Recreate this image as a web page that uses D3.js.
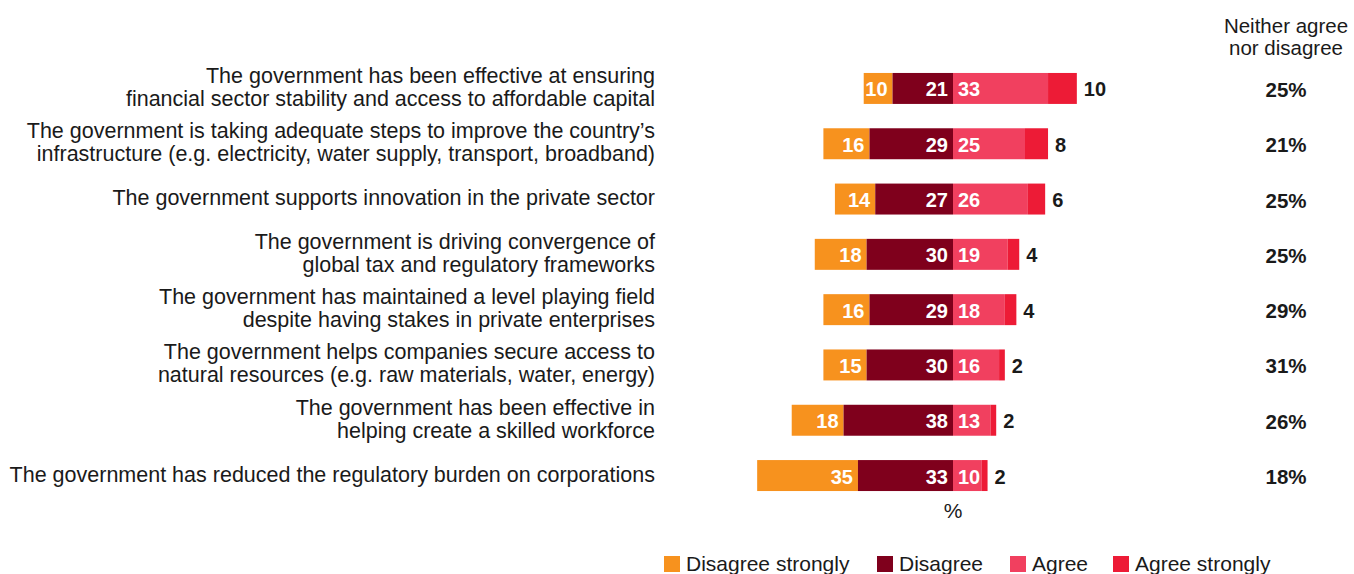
<!DOCTYPE html>
<html>
<head>
<meta charset="utf-8">
<script src="https://cdn.jsdelivr.net/npm/d3@7"></script>
<style>
  html, body { margin: 0; padding: 0; background: #fff; }
  svg { display: block; font-family: "Liberation Sans", Arial, Helvetica, sans-serif; }
</style>
</head>
<body>
<svg id="chart" width="1354" height="574"></svg>
<script>
// Survey statements (each is one or two lines of text)
const statements = [
  ["The government has been effective at ensuring", "financial sector stability and access to affordable capital"],
  ["The government is taking adequate steps to improve the country\u2019s", "infrastructure (e.g. electricity, water supply, transport, broadband)"],
  ["The government supports innovation in the private sector"],
  ["The government is driving convergence of", "global tax and regulatory frameworks"],
  ["The government has maintained a level playing field", "despite having stakes in private enterprises"],
  ["The government helps companies secure access to", "natural resources (e.g. raw materials, water, energy)"],
  ["The government has been effective in", "helping create a skilled workforce"],
  ["The government has reduced the regulatory burden on corporations"]
];

// Response shares, %
const disagreeStrongly = [10, 16, 14, 18, 16, 15, 18, 35];
const disagree         = [21, 29, 27, 30, 29, 30, 38, 33];
const agree            = [33, 25, 26, 19, 18, 16, 13, 10];
const agreeStrongly    = [10, 8, 6, 4, 4, 2, 2, 2];
const neither          = [25, 21, 25, 25, 29, 31, 26, 18];

const seriesNames = ["Disagree strongly", "Disagree", "Agree", "Agree strongly"];
const colors = {
  "Disagree strongly": "#F7921E",
  "Disagree": "#7F001C",
  "Agree": "#F1405F",
  "Agree strongly": "#ED1B36"
};

const svg = d3.select("#chart");
const textColor = "#1a1a1a";

// Diverging scale: 0 sits at the centre line between disagree and agree
const x = d3.scaleLinear().domain([-70, 50]).range([953 - 70 * 2.88, 953 + 50 * 2.88]);
const y = d3.scaleBand()
  .domain(d3.range(statements.length))
  .range([60.8, 60.8 + 55.3 * statements.length])
  .paddingInner(0.44)
  .paddingOuter(0.22);

const rows = statements.map((s, i) => ({
  i,
  lines: s,
  ds: disagreeStrongly[i],
  d: disagree[i],
  a: agree[i],
  as: agreeStrongly[i],
  n: neither[i]
}));

const g = svg.append("g");
const row = g.selectAll("g.row").data(rows).join("g").attr("class", "row");

// Segment extents in data units
const segs = r => [
  { key: "Disagree strongly", x0: -(r.d + r.ds), x1: -r.d, v: r.ds },
  { key: "Disagree", x0: -r.d, x1: 0, v: r.d },
  { key: "Agree", x0: 0, x1: r.a, v: r.a },
  { key: "Agree strongly", x0: r.a, x1: r.a + r.as, v: r.as }
];

row.selectAll("rect")
  .data(r => segs(r).map(s => ({ ...s, i: r.i })))
  .join("rect")
  .attr("x", s => x(s.x0))
  .attr("width", s => x(s.x1) - x(s.x0))
  .attr("y", s => y(s.i))
  .attr("height", y.bandwidth())
  .attr("fill", s => colors[s.key]);

const mid = i => y(i) + y.bandwidth() / 2;
const valueSize = "20px";

// White values inside the disagree segments (right-aligned)
row.selectAll("text.dis")
  .data(r => segs(r).slice(0, 2).map(s => ({ ...s, i: r.i })))
  .join("text")
  .attr("class", "dis")
  .attr("x", s => x(s.x1) - 5)
  .attr("y", s => mid(s.i) + 1)
  .attr("text-anchor", "end")
  .attr("dominant-baseline", "central")
  .attr("fill", "#fff")
  .style("font-size", valueSize)
  .style("font-weight", "bold")
  .text(s => s.v);

// White value inside the agree segment (left-aligned)
row.append("text")
  .attr("x", r => x(0) + 5)
  .attr("y", r => mid(r.i) + 1)
  .attr("dominant-baseline", "central")
  .attr("fill", "#fff")
  .style("font-size", valueSize)
  .style("font-weight", "bold")
  .text(r => r.a);

// Agree strongly value beside the bar end
row.append("text")
  .attr("x", r => x(r.a + r.as) + 7)
  .attr("y", r => mid(r.i) + 1)
  .attr("dominant-baseline", "central")
  .attr("fill", textColor)
  .style("font-size", valueSize)
  .style("font-weight", "bold")
  .text(r => r.as);

// Neither agree nor disagree column
row.append("text")
  .attr("x", 1286)
  .attr("y", r => mid(r.i) + 1)
  .attr("text-anchor", "middle")
  .attr("dominant-baseline", "central")
  .attr("fill", textColor)
  .style("font-size", "20.5px")
  .style("font-weight", "bold")
  .text(r => r.n + "%");

// Statement labels, right-aligned
const lineH = 23;
row.append("text")
  .attr("text-anchor", "end")
  .attr("fill", textColor)
  .style("font-size", "21.5px")
  .each(function (r) {
    const t = d3.select(this);
    const n = r.lines.length;
    r.lines.forEach((ln, k) => {
      t.append("tspan")
        .attr("x", 655)
        .attr("y", mid(r.i) - 1 + (k - (n - 1) / 2) * lineH)
        .attr("dominant-baseline", "central")
        .text(ln);
    });
  });

// Column header
svg.append("text")
  .attr("text-anchor", "middle")
  .attr("fill", textColor)
  .style("font-size", "20.5px")
  .selectAll("tspan")
  .data(["Neither agree", "nor disagree"])
  .join("tspan")
  .attr("x", 1286)
  .attr("y", (d, k) => 33 + k * 22)
  .text(d => d);

// Unit label under the centre line
svg.append("text")
  .attr("x", x(0))
  .attr("y", 518)
  .attr("text-anchor", "middle")
  .attr("fill", textColor)
  .style("font-size", "21px")
  .text("%");

// Legend
const legendX = [664, 877, 1010, 1113];
const legend = svg.append("g").selectAll("g").data(seriesNames).join("g")
  .attr("transform", (d, k) => `translate(${legendX[k]},556)`);
legend.append("rect").attr("width", 16).attr("height", 16).attr("fill", d => colors[d]);
legend.append("text")
  .attr("x", 22)
  .attr("y", 15)
  .attr("fill", textColor)
  .style("font-size", "21px")
  .text(d => d);
</script>
</body>
</html>
